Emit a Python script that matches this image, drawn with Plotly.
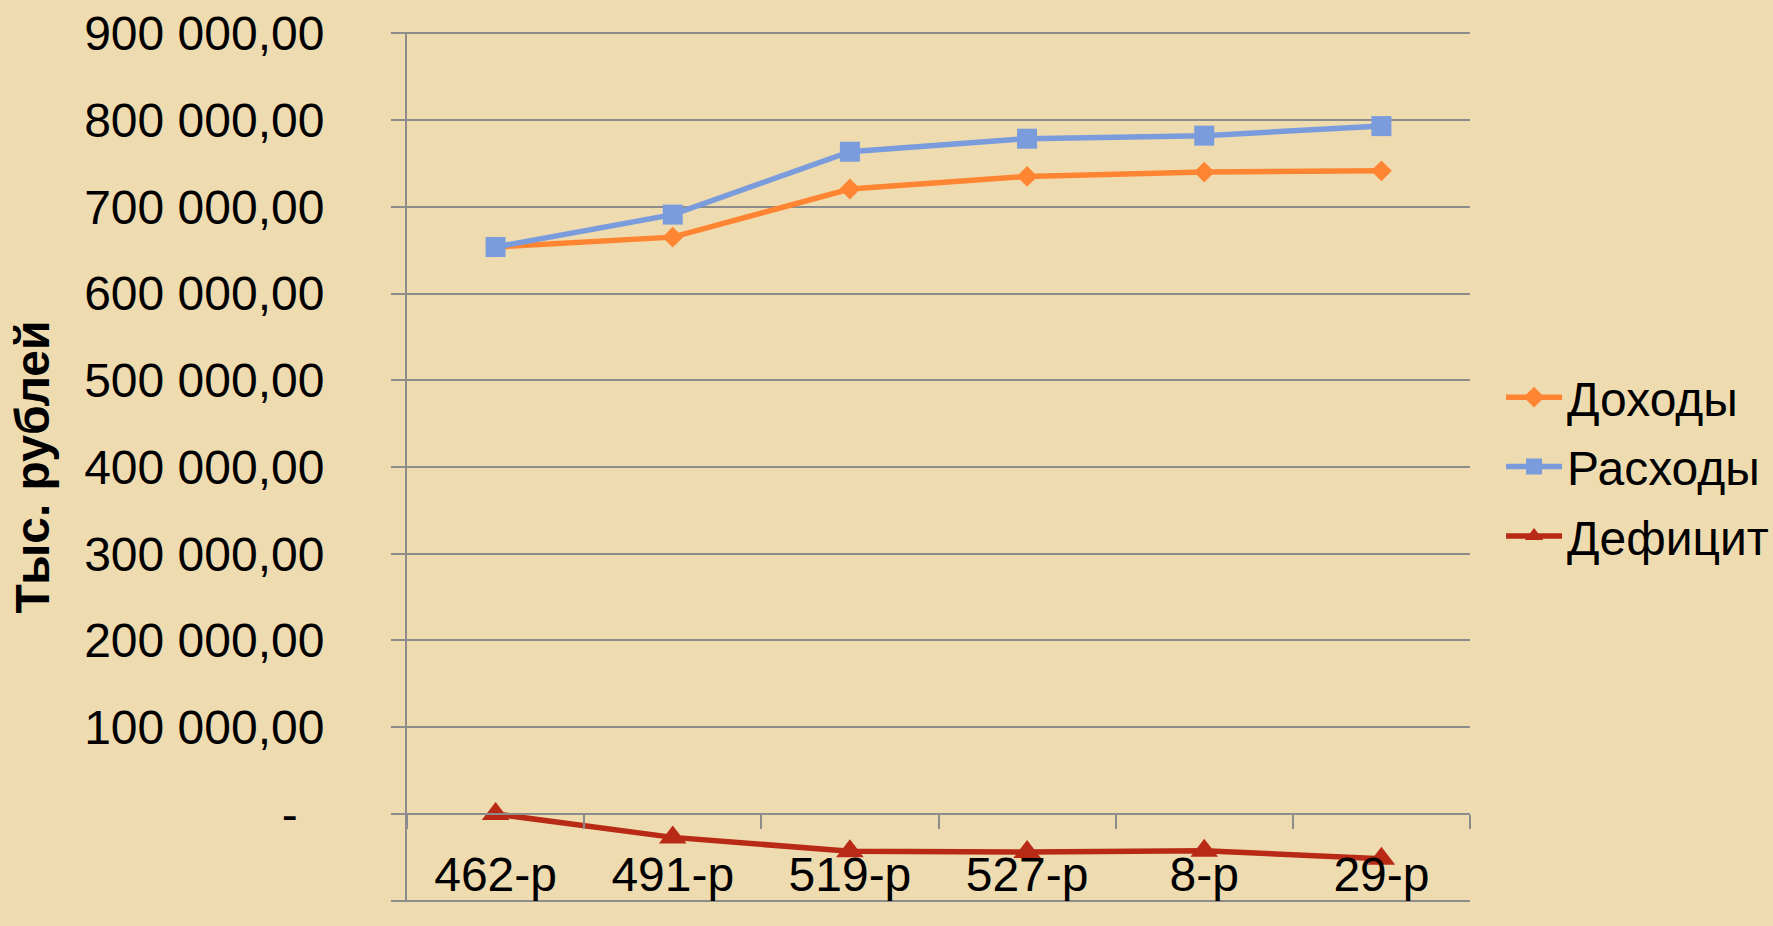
import plotly.graph_objects as go

categories = ["462-р", "491-р", "519-р", "527-р", "8-р", "29-р"]
income = [653600, 665000, 720500, 735000, 740000, 741500]
expenses = [653600, 691000, 763500, 778500, 782000, 793000]
deficit = [0, -27000, -43000, -44000, -42500, -51500]

series_names = ["Доходы", "Расходы", "Дефицит"]
y_tick_values = [-100000, 0, 100000, 200000, 300000, 400000, 500000,
                 600000, 700000, 800000, 900000]
y_title = "Тыс. рублей"


def fmt(v):
    if v == 0:
        return "-\u00a0\u00a0"
    s = f"{abs(v):,.2f}".replace(",", " ").replace(".", ",")
    return ("-" if v < 0 else "") + s


y_tick_text = [fmt(v) for v in y_tick_values]

FONT = "Liberation Sans, Arial, sans-serif"
BG = "#EFDBB0"
GRID = "#8C8C8C"

# small padding beyond the outer ticks so edge gridlines are drawn
pad = 1500
y_lo = min(y_tick_values) - pad
y_hi = max(y_tick_values) + pad
x_axis_pos = (0 - y_lo) / (y_hi - y_lo)

fig = go.Figure()
fig.add_trace(go.Scatter(
    x=categories, y=income, name=series_names[0], mode="lines+markers",
    line=dict(color="#FF8533", width=5.5),
    marker=dict(symbol="diamond", size=16, color="#FF8533"),
    legendgroup="a"))
fig.add_trace(go.Scatter(
    x=categories, y=expenses, name=series_names[1], mode="lines+markers",
    line=dict(color="#7A9CDC", width=5.5),
    marker=dict(symbol="square", size=20, color="#7A9CDC"),
    legendgroup="b"))
fig.add_trace(go.Scatter(
    x=categories, y=deficit, name=series_names[2], mode="lines+markers",
    line=dict(color="#B82A16", width=5.5),
    marker=dict(symbol="triangle-up", size=24, color="#B82A16"),
    legendgroup="c"))

fig.update_layout(
    width=1773, height=926,
    margin=dict(l=407, r=303, t=32, b=24, autoexpand=False),
    paper_bgcolor=BG, plot_bgcolor=BG,
    font=dict(family=FONT, size=48, color="black"),
    showlegend=True,
    legend=dict(x=1.0292, xanchor="left", y=0.5, yanchor="middle",
                font=dict(family=FONT, size=48, color="black"),
                bgcolor="rgba(0,0,0,0)", tracegroupgap=4,
                itemwidth=56, itemsizing="trace"),
    xaxis=dict(
        type="category", range=[-0.5, 5.5],
        anchor="free", position=x_axis_pos, automargin=False,
        showline=True, linecolor=GRID, linewidth=2,
        ticks="outside", tickson="boundaries", ticklen=14,
        tickcolor=GRID, tickwidth=2, showgrid=False, zeroline=False,
        tickfont=dict(family=FONT, size=48, color="black"),
        ticklabelstandoff=18,
    ),
    yaxis=dict(
        range=[y_lo, y_hi], tickvals=y_tick_values,
        ticktext=y_tick_text, automargin=False,
        showline=True, linecolor=GRID, linewidth=2,
        ticks="outside", ticklen=14, tickcolor=GRID, tickwidth=2,
        showgrid=True, gridcolor=GRID, gridwidth=2, zeroline=False,
        tickfont=dict(family=FONT, size=48, color="black"),
        ticklabelstandoff=57,
        title=dict(text="<b>" + y_title + "</b>",
                   font=dict(family=FONT, size=48, color="black"),
                   standoff=19),
    ),
)

fig.write_html("out.html", config={"displayModeBar": False},
               post_script="document.body.style.margin='0px';")
